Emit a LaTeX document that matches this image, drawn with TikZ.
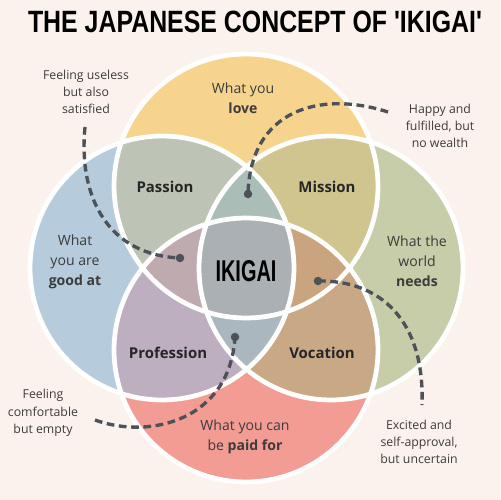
\documentclass[tikz,border=0pt]{standalone}
\usepackage{fontspec}
\setmainfont{Open Sans}
\newfontfamily\titlefont{Liberation Sans}
\usepackage{graphicx}
\definecolor{bg}{HTML}{FBF2ED}
\definecolor{cT}{HTML}{F7D48E}
\definecolor{cL}{HTML}{B6CBDB}
\definecolor{cR}{HTML}{C7CDA9}
\definecolor{cB}{HTML}{F29C94}
\definecolor{cTL}{HTML}{BDC3B5}
\definecolor{cTR}{HTML}{D0C48F}
\definecolor{cLB}{HTML}{BDAEC0}
\definecolor{cRB}{HTML}{C9A985}
\definecolor{cTLR}{HTML}{AABDB7}
\definecolor{cTLB}{HTML}{BFAAAF}
\definecolor{cTRB}{HTML}{CAA47F}
\definecolor{cLRB}{HTML}{AAB7BF}
\definecolor{cAll}{HTML}{AAB0B4}
\definecolor{txt}{HTML}{3C3C3C}
\definecolor{dashc}{HTML}{4C5257}
\tikzset{
  small/.style={align=center, inner sep=0pt, text=txt, font=\fontsize{7}{9.8}\selectfont},
  circlabel/.style={align=center, inner sep=0pt, text=txt, font=\fontsize{8}{11.4}\selectfont},
  region/.style={inner sep=0pt, text=black!85, font=\fontsize{8.5}{10}\selectfont\bfseries},
  conn/.style={draw=dashc, line width=1.9pt, dash pattern=on 4.4pt off 2.6pt},
  dotc/.style={fill=dashc},
  rim/.style={draw=white, line width=2.7pt}
}
\begin{document}
\begin{tikzpicture}[x=0.02cm,y=-0.02cm]
\useasboundingbox (0,0) rectangle (500,500);
\fill[bg] (0,0) rectangle (500,500);
\def\R{2.64cm}
\coordinate (T) at (246,186);
\coordinate (L) at (162,268);
\coordinate (Rc) at (331,268);
\coordinate (B) at (246,350);
% single circles
\fill[cT] (T) circle[radius=\R];
\fill[cL] (L) circle[radius=\R];
\fill[cR] (Rc) circle[radius=\R];
\fill[cB] (B) circle[radius=\R];
% pairs
\begin{scope}\clip (T) circle[radius=\R]; \fill[cTL] (L) circle[radius=\R]; \end{scope}
\begin{scope}\clip (T) circle[radius=\R]; \fill[cTR] (Rc) circle[radius=\R]; \end{scope}
\begin{scope}\clip (B) circle[radius=\R]; \fill[cLB] (L) circle[radius=\R]; \end{scope}
\begin{scope}\clip (B) circle[radius=\R]; \fill[cRB] (Rc) circle[radius=\R]; \end{scope}
% triples
\begin{scope}\clip (T) circle[radius=\R]; \clip (L) circle[radius=\R]; \fill[cTLR] (Rc) circle[radius=\R]; \end{scope}
\begin{scope}\clip (T) circle[radius=\R]; \clip (L) circle[radius=\R]; \fill[cTLB] (B) circle[radius=\R]; \end{scope}
\begin{scope}\clip (T) circle[radius=\R]; \clip (Rc) circle[radius=\R]; \fill[cTRB] (B) circle[radius=\R]; \end{scope}
\begin{scope}\clip (B) circle[radius=\R]; \clip (L) circle[radius=\R]; \fill[cLRB] (Rc) circle[radius=\R]; \end{scope}
% all four
\begin{scope}\clip (T) circle[radius=\R]; \clip (L) circle[radius=\R]; \clip (Rc) circle[radius=\R]; \fill[cAll] (B) circle[radius=\R]; \end{scope}
% white rims
\draw[rim] (T) circle[radius=\R];
\draw[rim] (L) circle[radius=\R];
\draw[rim] (Rc) circle[radius=\R];
\draw[rim] (B) circle[radius=\R];

% title
\node[inner sep=0pt, anchor=base] (title) at (255,33) {\resizebox{9.08cm}{0.43cm}{\titlefont\bfseries THE JAPANESE CONCEPT OF 'IKIGAI'}};

% labels
\node[small] (t1) at (86,92) {Feeling useless\\but also\\satisfied};
\node[circlabel] (t2) at (243,98) {What you\\\textbf{love}};
\node[small] (t3) at (440,126) {Happy and\\fulfilled, but\\no wealth};
\node[circlabel] (t4) at (75,262) {What\\you are\\\textbf{good at}};
\node[circlabel] (t5) at (417,261) {What the\\world\\\textbf{needs}};
\node[small] (t6) at (43,413) {Feeling\\comfortable\\but empty};
\node[circlabel] (t7) at (245,437) {What you can\\be \textbf{paid for}};
\node[small] (t8) at (419,442) {Excited and\\self-approval,\\but uncertain};

\node[region] (passion) at (165,187) {Passion};
\node[region] (mission) at (327,187) {Mission};
\node[region] (profession) at (168,353) {Profession};
\node[region] (vocation) at (322,353) {Vocation};
\node[inner sep=0pt, anchor=base] (ikigai) at (246,281) {\resizebox{1.22cm}{0.42cm}{\titlefont\bfseries IKIGAI}};

% connectors
\coordinate (s1) at (85,127);
\coordinate (d1) at (180,258);
\coordinate (s2) at (388,112);
\coordinate (d2) at (248,194);
\coordinate (s3) at (95,420);
\coordinate (d3) at (235,337);
\coordinate (s4) at (422,405);
\coordinate (d4) at (318,281);
\draw[conn] (s1) .. controls (78,200) and (110,255) .. (d1);
\draw[conn] (s2) .. controls (320,90) and (250,110) .. (d2);
\draw[conn] (s3) .. controls (150,440) and (230,420) .. (d3);
\draw[conn] (d4) .. controls (380,280) and (425,320) .. (s4);
\fill[dotc] (d1) circle[radius=0.085cm];
\fill[dotc] (d2) circle[radius=0.085cm];
\fill[dotc] (d3) circle[radius=0.085cm];
\fill[dotc] (d4) circle[radius=0.085cm];
\end{tikzpicture}
\end{document}
